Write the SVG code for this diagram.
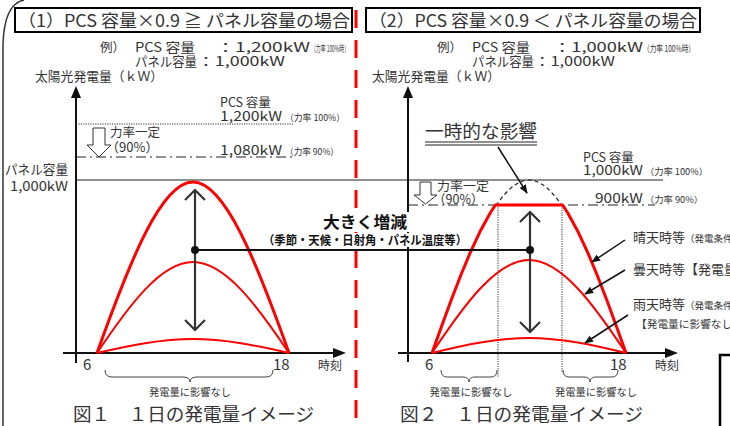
<svg xmlns="http://www.w3.org/2000/svg" width="730" height="426" viewBox="0 0 730 426">
<defs>
<style>
text{font-family:"Noto Sans CJK JP","Noto Sans",sans-serif;fill:#333}
.b{font-weight:bold;fill:#111}
.ax{stroke:#111;stroke-width:2;fill:none}
.thin{stroke:#222;stroke-width:1.2;fill:none}
.dot{stroke:#333;stroke-width:1;stroke-dasharray:1.2 1.2;fill:none}
.dd{stroke:#222;stroke-width:1.2;stroke-dasharray:10 4 2 4;fill:none}
.r3{stroke:#f00;stroke-width:3;fill:none;stroke-linejoin:round}
.r2{stroke:#f00;stroke-width:2;fill:none}
.chev{stroke:#333;stroke-width:2.2;fill:none}
.brace{stroke:#444;stroke-width:1;fill:none}
.box{stroke:#000;stroke-width:2;fill:#fff}
.hollow{stroke:#333;stroke-width:1;fill:#fff}
.lbl{stroke:#111;stroke-width:1.5;fill:none}
</style>
<marker id="ah" viewBox="0 0 10 8" refX="9" refY="4" markerWidth="9" markerHeight="8" markerUnits="userSpaceOnUse" orient="auto"><path d="M0,0 L10,4 L0,8 z" fill="#111"/></marker>
<clipPath id="top205"><rect x="400" y="170" width="300" height="35"/></clipPath>
</defs>
<rect width="730" height="426" fill="#fff"/>
<path d="M3,426 L3,45 Q4,4 24,0" stroke="#333" stroke-width="1.5" fill="none"/>
<line x1="356" y1="10" x2="356" y2="426" stroke="#f00" stroke-width="3" stroke-dasharray="18 12"/>
<path d="M720,426 L720,355 L730,355" stroke="#000" stroke-width="2.5" fill="none"/>

<g id="title1">
<rect class="box" x="15" y="8" width="337" height="24"/>
<text x="18" y="27" font-size="17" textLength="332" lengthAdjust="spacingAndGlyphs">（1）PCS 容量×0.9 ≧ パネル容量の場合</text>
</g>
<g id="title2">
<rect class="box" x="366" y="8" width="334" height="24"/>
<text x="369" y="27" font-size="17" textLength="328" lengthAdjust="spacingAndGlyphs">（2）PCS 容量×0.9 ＜ パネル容量の場合</text>
</g>

<g id="example1">
<text x="100" y="52" font-size="12.5">例）</text>
<text x="135" y="52" font-size="13" textLength="60" lengthAdjust="spacingAndGlyphs">PCS 容量</text>
<text x="216" y="52" font-size="13" textLength="94" lengthAdjust="spacingAndGlyphs">：1,200kW</text>
<text x="311" y="52" font-size="9" textLength="38" lengthAdjust="spacingAndGlyphs">（力率 100%時）</text>
<text x="135" y="66" font-size="13" textLength="62" lengthAdjust="spacingAndGlyphs">パネル容量</text>
<text x="197" y="66" font-size="13" textLength="88" lengthAdjust="spacingAndGlyphs">：1,000kW</text>
</g>
<g id="example2">
<text x="437" y="52" font-size="12.5">例）</text>
<text x="472" y="52" font-size="13" textLength="58" lengthAdjust="spacingAndGlyphs">PCS 容量</text>
<text x="553" y="52" font-size="13" textLength="90" lengthAdjust="spacingAndGlyphs">：1,000kW</text>
<text x="643" y="52" font-size="9" textLength="52" lengthAdjust="spacingAndGlyphs">（力率 100%時）</text>
<text x="472" y="66" font-size="13" textLength="62" lengthAdjust="spacingAndGlyphs">パネル容量</text>
<text x="534" y="66" font-size="13" textLength="81" lengthAdjust="spacingAndGlyphs">：1,000kW</text>
</g>

<g id="axes1">
<text x="35" y="81" font-size="13" textLength="128" lengthAdjust="spacingAndGlyphs">太陽光発電量（ｋＷ）</text>
<line class="ax" x1="76" y1="363" x2="76" y2="96"/>
<polygon points="76,86 71,98 81,98" fill="#111"/>
<line class="ax" x1="63" y1="353" x2="335" y2="353"/>
<polygon points="346,353 333,348 333,358" fill="#111"/>
<text x="83" y="370" font-size="15">6</text>
<text x="273" y="370" font-size="15">18</text>
<text x="318" y="370" font-size="12">時刻</text>
</g>
<g id="axes2">
<text x="372" y="81" font-size="13" textLength="128" lengthAdjust="spacingAndGlyphs">太陽光発電量（ｋＷ）</text>
<line class="ax" x1="408" y1="362" x2="408" y2="96"/>
<polygon points="408,86 403,98 413,98" fill="#111"/>
<line class="ax" x1="398" y1="353" x2="667" y2="353"/>
<polygon points="678,353 665,348 665,358" fill="#111"/>
<text x="425" y="370" font-size="15">6</text>
<text x="610" y="370" font-size="15">18</text>
<text x="655" y="370" font-size="12">時刻</text>
</g>

<g id="levels1">
<line class="dot" x1="76" y1="124" x2="293" y2="124"/>
<text x="220" y="107" font-size="12.5">PCS 容量</text>
<text x="220" y="121" font-size="13" textLength="62" lengthAdjust="spacingAndGlyphs">1,200kW</text>
<text x="285" y="121" font-size="9" textLength="60" lengthAdjust="spacingAndGlyphs">（力率 100%）</text>
<polygon class="hollow" points="93,128 105,128 105,145 111,145 99,157 87,145 93,145"/>
<text x="110" y="137" font-size="12.5">力率一定</text>
<text x="106" y="152" font-size="13">（90%）</text>
<line class="dd" x1="76" y1="157" x2="292" y2="157"/>
<text x="220" y="155" font-size="13" textLength="62" lengthAdjust="spacingAndGlyphs">1,080kW</text>
<text x="285" y="155" font-size="9" textLength="54" lengthAdjust="spacingAndGlyphs">（力率 90%）</text>
<text x="5" y="174" font-size="13" textLength="63" lengthAdjust="spacingAndGlyphs">パネル容量</text>
<text x="10" y="191" font-size="13" textLength="58" lengthAdjust="spacingAndGlyphs">1,000kW</text>
</g>
<line id="panel-line" class="thin" x1="76" y1="180" x2="663" y2="180"/>

<g id="levels2">
<text x="583" y="162" font-size="12.5">PCS 容量</text>
<text x="583" y="175" font-size="13" textLength="60" lengthAdjust="spacingAndGlyphs">1,000kW</text>
<text x="645" y="175" font-size="9" textLength="63" lengthAdjust="spacingAndGlyphs">（力率 100%）</text>
<polygon class="hollow" points="420,182 431,182 431,195 437,195 425.5,204 414,195 420,195"/>
<text x="437" y="191" font-size="12.5" textLength="52" lengthAdjust="spacingAndGlyphs">力率一定</text>
<text x="433" y="204" font-size="12.5">（90%）</text>
<line class="dd" x1="408" y1="205" x2="655" y2="205"/>
<text x="595" y="203" font-size="13" textLength="48" lengthAdjust="spacingAndGlyphs">900kW</text>
<text x="645" y="203" font-size="9" textLength="58" lengthAdjust="spacingAndGlyphs">（力率 90%）</text>
<line class="dot" x1="498" y1="205" x2="498" y2="377"/>
<line class="dot" x1="562" y1="205" x2="562" y2="372"/>
</g>

<g id="curves1">
<path class="r3" d="M97,353 C129.1,263.2 160.9,182 193,182 C225.1,182 256.9,263.2 289,353"/>
<path class="r2" d="M97,353 C129.1,305.2 160.9,262 193,262 C225.1,262 256.9,305.2 289,353"/>
<path class="r2" d="M97,353 C129.1,345.6 160.9,339 193,339 C225.1,339 256.9,345.6 289,353"/>
</g>
<g id="curves2">
<path d="M432,353 C464.4,262.2 496.6,180 529,180 C561.4,180 593.6,262.2 626,353" stroke="#222" stroke-width="1.2" stroke-dasharray="4 3" fill="none" clip-path="url(#top205)"/>
<path class="r3" d="M432,353 L441.7,325.9 L451.4,299.5 L461.1,274.5 L470.8,251.3 L480.5,230.7 L490.2,213 L495.4,205 L562.6,205 L567.8,213 L577.5,230.7 L587.2,251.3 L596.9,274.5 L606.6,299.5 L616.3,325.9 L626,353"/>
<path class="r2" d="M432,353 C464.4,304.2 496.6,260 529,260 C561.4,260 593.6,304.2 626,353"/>
<path class="r2" d="M432,353 C464.4,345.1 496.6,338 529,338 C561.4,338 593.6,345.1 626,353"/>
</g>

<g id="range-arrows">
<line class="chev" x1="195" y1="190" x2="195" y2="330"/>
<path class="chev" d="M185,200 L195,190 L205,200 M185,320 L195,330 L205,320"/>
<line class="chev" x1="530" y1="212" x2="530" y2="332"/>
<path class="chev" d="M520,222 L530,212 L540,222 M520,322 L530,332 L540,322"/>
<line x1="195" y1="250" x2="530" y2="250" stroke="#111" stroke-width="2"/>
<circle cx="195" cy="250" r="4" fill="#111"/>
<circle cx="530" cy="250" r="4" fill="#111"/>
</g>

<g id="big-label">
<rect x="321" y="212" width="89" height="20" fill="#fff"/>
<rect x="261" y="233" width="209" height="14" fill="#fff"/>
<text class="b" x="323" y="228" font-size="16" textLength="84" lengthAdjust="spacingAndGlyphs">大きく増減</text>
<text class="b" x="263" y="245" font-size="12" textLength="204" lengthAdjust="spacingAndGlyphs">（季節・天候・日射角・パネル温度等）</text>
</g>

<g id="temp-label">
<text x="425" y="138" font-size="18" textLength="112" lengthAdjust="spacingAndGlyphs">一時的な影響</text>
<line x1="425" y1="142" x2="537" y2="142" stroke="#222" stroke-width="1"/>
<line x1="425" y1="145" x2="537" y2="145" stroke="#222" stroke-width="1"/>
</g>

<g id="connectors">
<line class="lbl" x1="498" y1="147" x2="527" y2="193" marker-end="url(#ah)"/>
<line class="lbl" x1="625" y1="240" x2="592" y2="262" marker-end="url(#ah)"/>
<line class="lbl" x1="625" y1="270" x2="585" y2="294" marker-end="url(#ah)"/>
<line class="lbl" x1="628" y1="315" x2="585" y2="343" marker-end="url(#ah)"/>
</g>

<g id="weather-labels">
<text x="633" y="242" font-size="13">晴天時等<tspan font-size="9.5">（発電条件</tspan></text>
<text x="633" y="274" font-size="13">曇天時等【発電量に</text>
<text x="633" y="309" font-size="13">雨天時等<tspan font-size="9.5">（発電条件</tspan></text>
<text x="636" y="328" font-size="10.7">【発電量に影響なし】</text>
</g>

<g id="braces">
<path class="brace" d="M105,370 Q105,377 112,377 L183,377 Q190,377 190,382 Q190,377 197,377 L266,377 Q273,377 273,370"/>
<path class="brace" d="M441,370 Q441,377 447,377 L463,377 Q469,377 469,382 Q469,377 475,377 L491,377 Q497,377 497,370"/>
<path class="brace" d="M563,370 Q563,377 569,377 L584,377 Q590,377 590,382 Q590,377 596,377 L612,377 Q618,377 618,370"/>
<text x="190" y="396" font-size="10.5" text-anchor="middle" textLength="82" lengthAdjust="spacingAndGlyphs">発電量に影響なし</text>
<text x="471" y="396" font-size="10.5" text-anchor="middle" textLength="83" lengthAdjust="spacingAndGlyphs">発電量に影響なし</text>
<text x="596" y="396" font-size="10.5" text-anchor="middle" textLength="82" lengthAdjust="spacingAndGlyphs">発電量に影響なし</text>
</g>

<g id="captions">
<text x="73" y="421" font-size="18" textLength="241" lengthAdjust="spacingAndGlyphs">図１　１日の発電量イメージ</text>
<text x="400" y="421" font-size="18" textLength="243" lengthAdjust="spacingAndGlyphs">図２　１日の発電量イメージ</text>
</g>
</svg>
